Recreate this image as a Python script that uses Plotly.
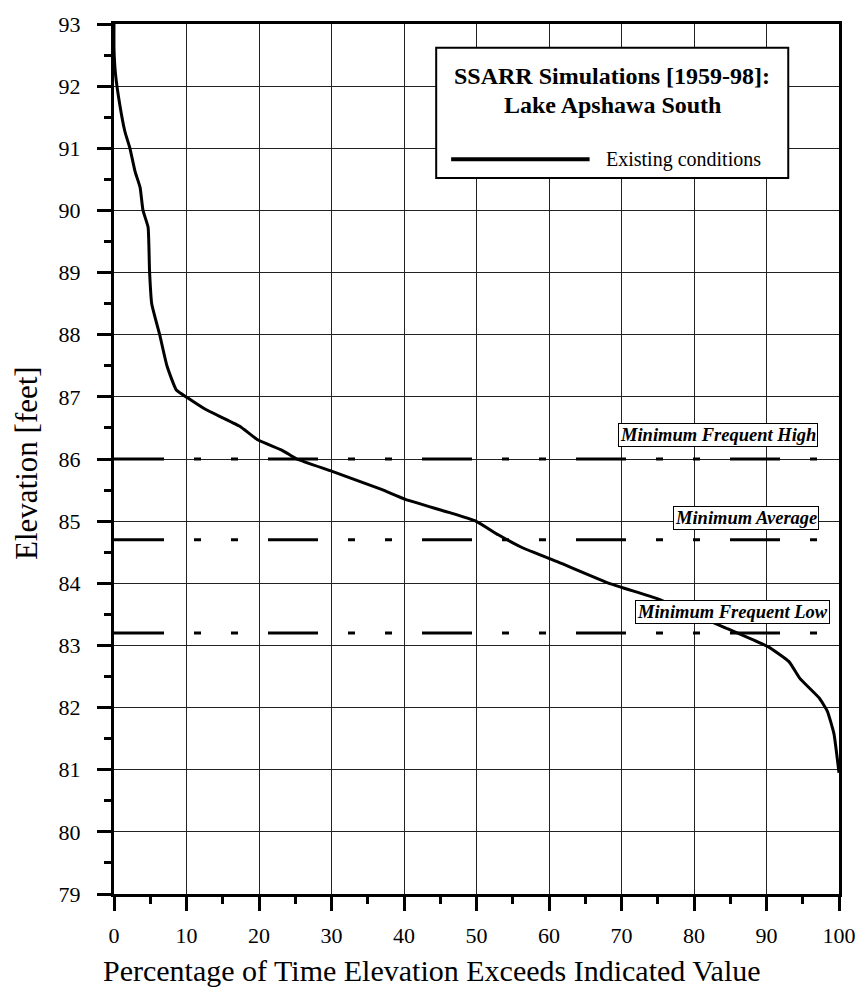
import plotly.graph_objects as go

# ---- data ----
pct_exceed = [0, 0, 0.2, 0.8, 1.5, 2.2, 2.9, 3.6, 4.0, 4.7, 4.9, 5.2, 6.3, 7.3, 8.6,
              10.2, 12.6, 17.3, 19.8, 23.2, 25.2, 30.1, 36.9, 40.2, 46.2, 49.9, 53.0,
              56.2, 61.3, 68.5, 75.0, 84.6, 90.2, 93.1, 94.6, 97.3, 98.4, 99.3, 100]
elevation = [93.0, 92.6, 92.2, 91.7, 91.27, 91.0, 90.63, 90.37, 90.0, 89.73, 89.03, 88.5,
             88.0, 87.5, 87.11, 86.98, 86.8, 86.53, 86.31, 86.14, 86.0, 85.8, 85.51,
             85.35, 85.14, 85.0, 84.78, 84.58, 84.34, 83.99, 83.75, 83.27, 82.98, 82.74,
             82.47, 82.15, 81.94, 81.58, 80.95]

threshold_names = ["Minimum Frequent High", "Minimum Average", "Minimum Frequent Low"]
threshold_levels = [86.0, 84.7, 83.2]
threshold_label_x = [83.3, 87.2, 85.3]
threshold_label_y = [86.39, 85.05, 83.53]

x_ticks = list(range(0, 101, 10))
y_ticks = list(range(79, 94))

series_name = "Existing conditions"
legend_title_lines = ["SSARR Simulations [1959-98]:", "Lake Apshawa South"]
x_title = "Percentage of Time Elevation Exceeds Indicated Value"
y_title = "Elevation [feet]"

FONT = "Liberation Serif, Times New Roman, Tinos, Times, serif"

fig = go.Figure()
fig.add_trace(go.Scatter(x=pct_exceed, y=elevation, mode="lines", name=series_name,
                         line=dict(color="black", width=3, shape="spline", smoothing=0.4),
                         showlegend=False))

shapes = []
annotations = []
for name, lvl, lx, ly in zip(threshold_names, threshold_levels, threshold_label_x, threshold_label_y):
    shapes.append(dict(type="line", xref="paper", yref="y", x0=0, x1=1.0096, y0=lvl, y1=lvl,
                       line=dict(color="black", width=3,
                                 dash="50px,30px,7px,30px,7px,30px")))
    annotations.append(dict(x=lx, y=ly, xref="x", yref="y", text="<b><i>%s</i></b>" % name,
                            showarrow=False, font=dict(family=FONT, size=18.5, color="black"),
                            bgcolor="white", bordercolor="black", borderwidth=1, borderpad=1,
                            xanchor="center", yanchor="middle"))

# legend box
shapes.append(dict(type="rect", xref="paper", yref="paper", x0=0.4444, x1=0.930,
                   y0=0.8229, y1=0.9726, line=dict(color="black", width=2),
                   fillcolor="white", layer="above"))
shapes.append(dict(type="line", xref="paper", yref="paper", x0=0.465, x1=0.656,
                   y0=0.8446, y1=0.8446, line=dict(color="black", width=4), layer="above"))
annotations.append(dict(x=0.687, y=0.9406, xref="paper", yref="paper",
                        text="<b>%s</b>" % legend_title_lines[0], showarrow=False,
                        font=dict(family=FONT, size=24, color="black"),
                        xanchor="center", yanchor="middle"))
annotations.append(dict(x=0.687, y=0.9074, xref="paper", yref="paper",
                        text="<b>%s</b>" % legend_title_lines[1], showarrow=False,
                        font=dict(family=FONT, size=24, color="black"),
                        xanchor="center", yanchor="middle"))
annotations.append(dict(x=0.676, y=0.8446, xref="paper", yref="paper",
                        text=series_name, showarrow=False,
                        font=dict(family=FONT, size=20, color="black"),
                        xanchor="left", yanchor="middle"))

# axis titles (the x title is centred on the page, not on the plot area)
annotations.append(dict(x=0.439, y=-0.088, xref="paper", yref="paper", text=x_title,
                        showarrow=False, font=dict(family=FONT, size=30, color="black"),
                        xanchor="center", yanchor="middle"))
annotations.append(dict(x=-0.1207, y=0.496, xref="paper", yref="paper", text=y_title,
                        showarrow=False, textangle=-90,
                        font=dict(family=FONT, size=31, color="black"),
                        xanchor="center", yanchor="middle"))

fig.update_layout(
    width=868, height=992,
    margin=dict(l=114, r=25, t=19, b=98),
    paper_bgcolor="white", plot_bgcolor="white",
    font=dict(family=FONT, color="black"),
    shapes=shapes, annotations=annotations,
    showlegend=False,
)
fig.update_xaxes(
    range=[0, 100], tickvals=x_ticks, ticktext=[str(v) for v in x_ticks],
    showgrid=True, gridcolor="#222", gridwidth=1,
    showline=True, linecolor="black", linewidth=3, mirror=True,
    ticks="outside", ticklen=14, tickwidth=3, tickcolor="black",
    tickfont=dict(family=FONT, size=22), ticklabelstandoff=6,
    minor=dict(dtick=5, ticks="outside", ticklen=7, tickwidth=3, tickcolor="black", showgrid=False),
    zeroline=False,
)
fig.update_yaxes(
    range=[79, 93], tickvals=y_ticks, ticktext=[str(v) for v in y_ticks],
    showgrid=True, gridcolor="#222", gridwidth=1,
    showline=True, linecolor="black", linewidth=3, mirror=True,
    ticks="outside", ticklen=14, tickwidth=3, tickcolor="black",
    tickfont=dict(family=FONT, size=22), ticklabelstandoff=12,
    minor=dict(dtick=0.5, ticks="outside", ticklen=7, tickwidth=3, tickcolor="black", showgrid=False),
    zeroline=False,
)

fig.write_html("out.html")
